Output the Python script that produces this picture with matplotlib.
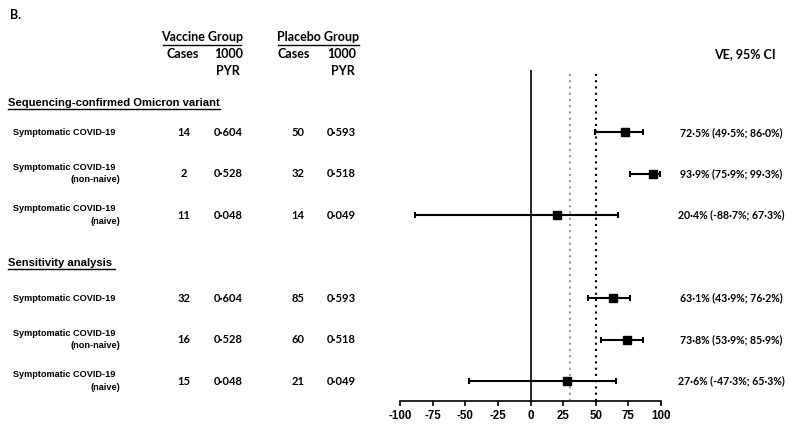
import matplotlib.pyplot as plt
import matplotlib.transforms as mtransforms

# rows of the forest plot (top to bottom)
row_pos = [0, 1, 2, 4, 5, 6]
row_labels = ["Symptomatic COVID-19"] * 6
row_sub = ["", "(non-naive)", "(naive)", "", "(non-naive)", "(naive)"]
vac_cases = [14, 2, 11, 32, 16, 15]
vac_pyr = ["0\u00b7604", "0\u00b7528", "0\u00b7048", "0\u00b7604", "0\u00b7528", "0\u00b7048"]
pla_cases = [50, 32, 14, 85, 60, 21]
pla_pyr = ["0\u00b7593", "0\u00b7518", "0\u00b7049", "0\u00b7593", "0\u00b7518", "0\u00b7049"]

ve = [72.5, 93.9, 20.4, 63.1, 73.8, 27.6]
ci_lo = [49.5, 75.9, -88.7, 43.9, 53.9, -47.3]
ci_hi = [86.0, 99.3, 67.3, 76.2, 85.9, 65.3]
ve_text = ["72\u00b75% (49\u00b75%; 86\u00b70%)",
           "93\u00b79% (75\u00b79%; 99\u00b73%)",
           "20\u00b74% (-88\u00b77%; 67\u00b73%)",
           "63\u00b71% (43\u00b79%; 76\u00b72%)",
           "73\u00b78% (53\u00b79%; 85\u00b79%)",
           "27\u00b76% (-47\u00b73%; 65\u00b73%)"]

sections = ["Sequencing-confirmed Omicron variant", "Sensitivity analysis "]
section_pos = [-0.7, 3.15]
ref_lines = [30, 50]
xticks = [-100, -75, -50, -25, 0, 25, 50, 75, 100]

W, H = 792, 425
fig = plt.figure(figsize=(W / 100, H / 100), dpi=100)
ax = fig.add_axes([400 / W, 1 - 401 / H, 261 / W, (401 - 70) / H])

ax.set_xlim(-100, 100)
ax.set_ylim(6.48, -1.5)

ax.axvline(0, color="black", lw=1.2)
ax.axvline(ref_lines[0], color="#999999", lw=1.5, ls=(0, (1, 2)))
ax.axvline(ref_lines[1], color="black", lw=1.5, ls=(0, (1, 2)))

err = [[v - l for v, l in zip(ve, ci_lo)], [h - v for v, h in zip(ve, ci_hi)]]
ax.errorbar(ve, row_pos, xerr=err, fmt="s", color="black", ms=5.5,
            elinewidth=1.5, capsize=2.5, capthick=1.5, zorder=3)

for side in ["top", "right", "left"]:
    ax.spines[side].set_visible(False)
ax.spines["bottom"].set_linewidth(1.2)
ax.set_yticks([])
ax.set_xticks(xticks)
ax.set_xticklabels([str(t) for t in xticks], fontfamily="Liberation Sans",
                   fontweight="bold", fontsize=8.3)
ax.tick_params(axis="x", length=3.5, width=1.2, pad=3)

# text columns: x in figure pixels, y in row units
tr = mtransforms.blended_transform_factory(fig.transFigure, ax.transData)
head = dict(fontfamily="Lato", fontweight="bold", fontsize=9, clip_on=False)
cal = dict(fontfamily="Lato", fontweight="bold", fontsize=8, clip_on=False)
ari = dict(fontfamily="Liberation Sans", fontweight="bold", fontsize=6.6, clip_on=False)

fig.text(10 / W, 1 - 15 / H, "B.", ha="left", va="center", **head)

head_y = 1 - 37 / H
fig.text(202 / W, head_y, "Vaccine Group", ha="center", va="center", **head)
fig.text(318 / W, head_y, "Placebo Group", ha="center", va="center", **head)
for x0, x1 in [(163, 241), (278, 359)]:
    fig.add_artist(plt.Line2D([x0 / W, x1 / W], [1 - 45 / H] * 2, color="black", lw=1.0))

sub_y = 1 - 54 / H
fig.text(183 / W, sub_y, "Cases", ha="center", va="center", **head)
fig.text(229 / W, sub_y, "1000", ha="center", va="center", **head)
fig.text(294 / W, sub_y, "Cases", ha="center", va="center", **head)
fig.text(342 / W, sub_y, "1000", ha="center", va="center", **head)
fig.text(228 / W, 1 - 71 / H, "PYR", ha="center", va="center", **head)
fig.text(343 / W, 1 - 71 / H, "PYR", ha="center", va="center", **head)
fig.text(745 / W, sub_y, "VE, 95% CI", ha="center", va="center", **head)

for name, y in zip(sections, section_pos):
    ax.text(8 / W, y, name, transform=tr, ha="left", va="center",
            fontfamily="Liberation Sans", fontweight="bold", fontsize=8.1,
            clip_on=False)

for i, y in enumerate(row_pos):
    if row_sub[i]:
        ax.text(13 / W, y - 0.15, row_labels[i], transform=tr, ha="left", va="center", **ari)
        ax.text(120 / W, y + 0.15, row_sub[i], transform=tr, ha="right", va="center", **ari)
    else:
        ax.text(13 / W, y, row_labels[i], transform=tr, ha="left", va="center", **ari)
    ax.text(184 / W, y, str(vac_cases[i]), transform=tr, ha="center", va="center", **cal)
    ax.text(228 / W, y, vac_pyr[i], transform=tr, ha="center", va="center", **cal)
    ax.text(298 / W, y, str(pla_cases[i]), transform=tr, ha="center", va="center", **cal)
    ax.text(341 / W, y, pla_pyr[i], transform=tr, ha="center", va="center", **cal)
    ax.text(731 / W, y, ve_text[i], transform=tr, ha="center", va="center",
            fontfamily="Lato", fontweight="bold", fontsize=7.6, clip_on=False)

# underline the section headers
fig.canvas.draw()
renderer = fig.canvas.get_renderer()
for txt in ax.texts:
    if txt.get_text() in sections:
        bb = txt.get_window_extent(renderer).transformed(fig.transFigure.inverted())
        fig.add_artist(plt.Line2D([bb.x0, bb.x1], [bb.y0 - 1.0 / H] * 2,
                                  color="black", lw=1.0))

fig.savefig("out.png", dpi=100)
